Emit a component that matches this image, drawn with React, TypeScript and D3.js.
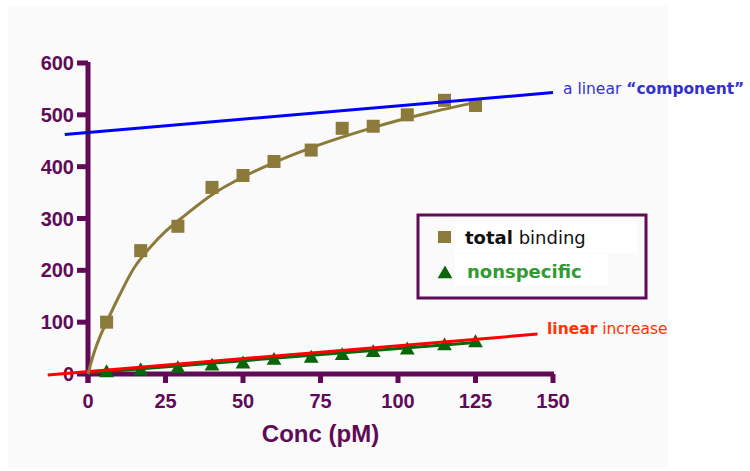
import * as d3 from "d3";
import React from "react";

// readings
const concs = [6, 17, 29, 40, 50, 60, 72, 82, 92, 103, 115, 125];
const totalBinding = [100, 238, 285, 360, 383, 410, 432, 474, 478, 500, 528, 518];
const nonspecific = [4, 8, 12, 17, 21, 28, 32, 37, 43, 48, 56, 62];

// fitted saturation curve, traced point by point
const fitCurve = [
  [0, 0], [2, 42], [4, 74], [6, 100], [10, 150], [15, 206], [20, 244],
  [25, 275], [30, 300], [40, 346], [50, 380], [60, 408], [70, 432],
  [80, 453], [90, 472], [100, 489], [110, 504], [125, 524],
];
const nsFit = [[0, 2], [125, 61]];
const redLine = [[-13, -2], [145, 77]];
const blueLine = [[-7.5, 462], [150, 543]];

const xTicks = [0, 25, 50, 75, 100, 125, 150];
const yTicks = [0, 100, 200, 300, 400, 500, 600];

const PURPLE = "#600a58";
const OLIVE = "#8c7a3a";
const DKGREEN = "#0b650b";

export default function App() {
  const x = d3.scaleLinear().domain([0, 150]).range([88, 553]);
  const y = d3.scaleLinear().domain([0, 600]).range([374, 63]);

  const line = d3
    .line<number[]>()
    .x((d) => x(d[0]))
    .y((d) => y(d[1]));
  const curve = d3
    .line<number[]>()
    .x((d) => x(d[0]))
    .y((d) => y(d[1]))
    .curve(d3.curveCatmullRom);

  const tri = d3.symbol().type(d3.symbolTriangle).size(95)();

  return (
    <div style={{ position: "absolute", left: 0, top: 0 }}>
      <svg width={750} height={471} style={{ display: "block" }}>
        <rect x={0} y={0} width={750} height={471} fill="#ffffff" />
        <rect x={8} y={6} width={660} height={462} fill="#fafafa" />

        {/* axes */}
        <g stroke={PURPLE} strokeWidth={5} fill="none">
          <line x1={x(0)} x2={x(0)} y1={y(600) - 1} y2={y(0) + 9} />
          <line x1={x(0)} x2={x(150) + 1} y1={y(0)} y2={y(0)} />
          {xTicks.map((t) => (
            <line key={"xt" + t} x1={x(t)} x2={x(t)} y1={y(0)} y2={y(0) + 9} />
          ))}
          {yTicks.map((t) => (
            <line key={"yt" + t} x1={x(0) - 11} x2={x(0)} y1={y(t)} y2={y(t)} />
          ))}
        </g>
        <g
          fill={PURPLE}
          fontFamily="'Liberation Sans', Arial, sans-serif"
          fontWeight="bold"
          fontSize={20}
        >
          {yTicks.map((t) => (
            <text key={"yl" + t} x={x(0) - 14} y={y(t) + 7} textAnchor="end">
              {t}
            </text>
          ))}
          {xTicks.map((t) => (
            <text key={"xl" + t} x={x(t)} y={408} textAnchor="middle">
              {t}
            </text>
          ))}
          <text x={(x(0) + x(150)) / 2} y={442} textAnchor="middle" fontSize={24}>
            Conc (pM)
          </text>
        </g>

        {/* fitted lines */}
        <path d={line(nsFit) ?? ""} stroke={DKGREEN} strokeWidth={3} fill="none" />
        {concs.map((c, i) => (
          <path
            key={"ns" + i}
            d={tri ?? ""}
            transform={`translate(${x(c)},${y(nonspecific[i]) + 1})`}
            fill={DKGREEN}
          />
        ))}
        <path d={line(redLine) ?? ""} stroke="#ff0000" strokeWidth={3} fill="none" />

        <path d={curve(fitCurve) ?? ""} stroke={OLIVE} strokeWidth={3} fill="none" />
        {concs.map((c, i) => (
          <rect
            key={"tb" + i}
            x={x(c) - 6.5}
            y={y(totalBinding[i]) - 6.5}
            width={13}
            height={13}
            fill={OLIVE}
          />
        ))}
        <path d={line(blueLine) ?? ""} stroke="#0000ff" strokeWidth={3} fill="none" />

        {/* annotations */}
        <g fontFamily="'DejaVu Sans', Verdana, sans-serif" fontSize={15.5}>
          <text x={563} y={94} fill="#3333cc">
            a linear <tspan fontWeight="bold">“component”</tspan>
          </text>
          <text x={547} y={334} fill="#ff3300">
            <tspan fontWeight="bold">linear</tspan> increase
          </text>
        </g>

        {/* legend */}
        <rect x={418} y={215} width={228} height={83} fill="#fafafa" stroke={PURPLE} strokeWidth={3} />
        <rect x={455} y={221} width={182} height={32} fill="#ffffff" />
        <rect x={455} y={254} width={153} height={31} fill="#ffffff" />
        <rect x={438} y={231} width={13} height={12} fill={OLIVE} />
        <path d={tri ?? ""} transform="translate(445,274)" fill={DKGREEN} />
        <g fontFamily="'DejaVu Sans', Verdana, sans-serif" fontSize={18}>
          <text x={465} y={244} fill="#111111">
            <tspan fontWeight="bold">total</tspan> binding
          </text>
          <text x={467} y={278} fill="#339933" fontWeight="bold">
            nonspecific
          </text>
        </g>
      </svg>
    </div>
  );
}
